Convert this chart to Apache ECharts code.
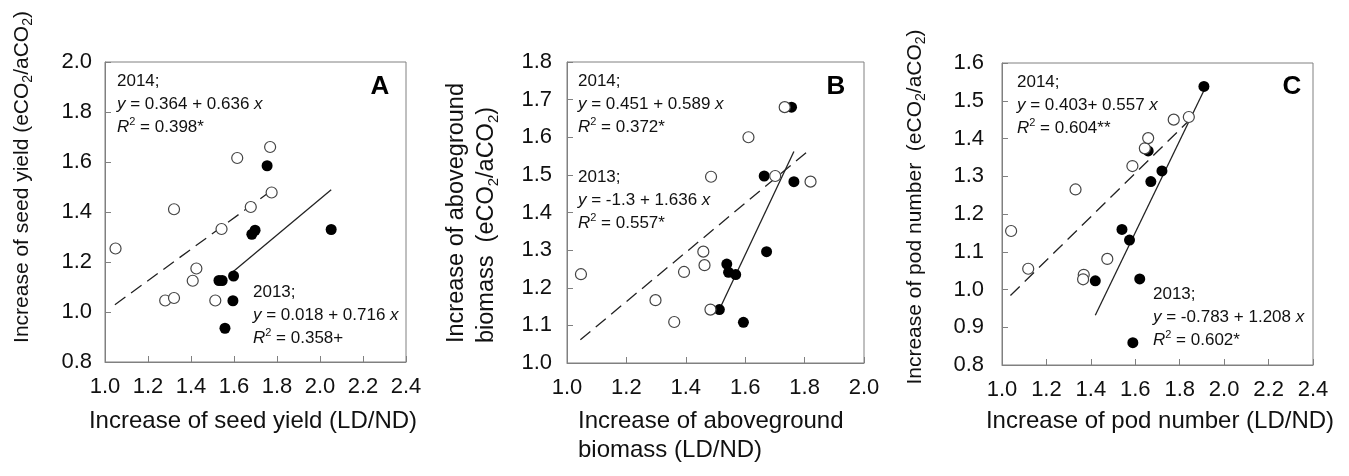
<!DOCTYPE html>
<html>
<head>
<meta charset="utf-8">
<script src="https://cdn.jsdelivr.net/npm/echarts@6/dist/echarts.min.js"></script>
<style>
  html, body { margin: 0; padding: 0; background: #fff; }
  #chart { width: 1349px; height: 476px; }
</style>
</head>
<body>
<div id="chart"></div>
<script>
// ---- data ----
// panel A: seed yield
const seedOpen2014 = [[1.049, 1.254], [1.321, 1.411], [1.280, 1.046], [1.321, 1.056], [1.408, 1.125], [1.425, 1.174],
    [1.513, 1.046], [1.542, 1.332], [1.615, 1.616], [1.678, 1.420], [1.768, 1.660], [1.775, 1.478]];
const seedFilled2013 = [[1.754, 1.585], [1.530, 1.126], [1.545, 1.126], [1.598, 1.144], [1.595, 1.045], [1.558, 0.935],
    [1.683, 1.311], [1.698, 1.327], [2.052, 1.330]];
const seedFit2014 = [[1.046, 1.029], [1.775, 1.486]];
const seedFit2013 = [[1.587, 1.155], [2.052, 1.489]];

// panel B: aboveground biomass
const biomassOpen2014 = [[1.047, 1.236], [1.298, 1.167], [1.361, 1.109], [1.394, 1.242], [1.459, 1.296], [1.463, 1.260],
    [1.485, 1.495], [1.483, 1.142], [1.611, 1.600], [1.701, 1.497], [1.733, 1.680], [1.820, 1.482]];
const biomassFilled2013 = [[1.513, 1.142], [1.538, 1.263], [1.544, 1.241], [1.568, 1.235], [1.594, 1.108], [1.664, 1.497],
    [1.672, 1.296], [1.756, 1.680], [1.764, 1.482]];
const biomassFit2014 = [[1.045, 1.062], [1.810, 1.562]];
const biomassFit2013 = [[1.513, 1.142], [1.764, 1.562]];

// panel C: pod number
const podOpen2014 = [[1.041, 1.155], [1.118, 1.055], [1.331, 1.265], [1.368, 1.039], [1.365, 1.027], [1.474, 1.081],
    [1.587, 1.327], [1.643, 1.374], [1.658, 1.401], [1.773, 1.450], [1.841, 1.457]];
const podFilled2013 = [[1.420, 1.023], [1.540, 1.159], [1.574, 1.131], [1.620, 1.028], [1.589, 0.859], [1.658, 1.367],
    [1.670, 1.286], [1.720, 1.314], [1.909, 1.538]];
const podFit2014 = [[1.038, 0.984], [1.841, 1.447]];
const podFit2013 = [[1.420, 0.932], [1.909, 1.527]];

// axis ranges [min, max, step]
const xRanges = [[1.0, 2.4, 0.2], [1.0, 2.0, 0.2], [1.0, 2.4, 0.2]];
const yRanges = [[0.8, 2.0, 0.2], [1.0, 1.8, 0.1], [0.8, 1.6, 0.1]];

const FONT = '"Liberation Sans", Arial, sans-serif';
const AXIS = '#808080';
const INK = '#111';

const chart = echarts.init(document.getElementById('chart'));

const grids = [
    { left: 105, top: 62, width: 301, height: 300 },
    { left: 567, top: 62, width: 297, height: 301 },
    { left: 1002, top: 63, width: 311, height: 302 }
];
const yLabelMargins = [13, 15, 18];

function xAxisFor(i) {
    const r = xRanges[i];
    return {
        type: 'value', gridIndex: i, min: r[0], max: r[1], interval: r[2],
        axisLine: { show: true, lineStyle: { color: AXIS, width: 1 } },
        axisTick: { show: true, inside: true, length: 6, lineStyle: { color: AXIS } },
        splitLine: { show: false },
        axisLabel: { color: INK, fontSize: 22, fontFamily: FONT, margin: 14, formatter: v => v.toFixed(1) }
    };
}
function yAxisFor(i) {
    const r = yRanges[i];
    return {
        type: 'value', gridIndex: i, min: r[0], max: r[1], interval: r[2],
        axisLine: { show: true, lineStyle: { color: AXIS, width: 1 } },
        axisTick: { show: true, inside: true, length: 6, lineStyle: { color: AXIS } },
        splitLine: { show: false },
        axisLabel: { color: INK, fontSize: 22, fontFamily: FONT, margin: yLabelMargins[i], formatter: v => v.toFixed(1) }
    };
}

function panelSeries(i, open, filled, fit14, fit13) {
    return [
        { type: 'line', xAxisIndex: i, yAxisIndex: i, data: fit14, symbol: 'none', z: 1,
          lineStyle: { color: '#222', width: 1.3, type: [13, 7] } },
        { type: 'line', xAxisIndex: i, yAxisIndex: i, data: fit13, symbol: 'none', z: 1,
          lineStyle: { color: '#222', width: 1.3 } },
        { type: 'scatter', xAxisIndex: i, yAxisIndex: i, data: filled, symbol: 'circle', symbolSize: 11, z: 2,
          itemStyle: { color: '#000', opacity: 1 } },
        { type: 'scatter', xAxisIndex: i, yAxisIndex: i, data: open, symbol: 'circle', symbolSize: 11, z: 3,
          itemStyle: { color: '#fff', borderColor: '#444', borderWidth: 1.2, opacity: 1 } }
    ];
}

const annRich = {
    i: { fontStyle: 'italic', fontSize: 17, fontFamily: FONT, fill: INK, lineHeight: 23 },
    sup: { fontSize: 11, fontFamily: FONT, fill: INK, verticalAlign: 'top', lineHeight: 12 }
};
function note(x, y, lines) {
    return {
        type: 'text', x: x, y: y, silent: true,
        style: { text: lines.join('\n'), font: '17px ' + FONT, fill: INK, lineHeight: 23, rich: annRich }
    };
}
function letter(x, y, t) {
    return {
        type: 'text', x: x, y: y, silent: true,
        style: { text: t, font: 'bold 26px ' + FONT, fill: '#000', align: 'center', verticalAlign: 'middle' }
    };
}

function yTitle(x, y, text, align, size) {
    return {
        type: 'text', x: x, y: y, rotation: Math.PI / 2, silent: true,
        style: {
            text: text, font: size + 'px ' + FONT, fill: INK, align: align, verticalAlign: 'middle',
            lineHeight: Math.round(size * 1.25),
            rich: { sub: { fontSize: Math.round(size * 0.65), fontFamily: FONT, fill: INK, verticalAlign: 'bottom', lineHeight: Math.round(size * 0.65) } }
        }
    };
}
function xTitle(x, y, text, align) {
    return {
        type: 'text', x: x, y: y, silent: true,
        style: { text: text, font: '24px ' + FONT, fill: INK, align: align, verticalAlign: 'middle' }
    };
}

const option = {
    backgroundColor: '#fff',
    animation: false,
    grid: grids.map(g => Object.assign({ show: true, borderColor: AXIS, borderWidth: 1, backgroundColor: 'transparent' }, g)),
    xAxis: [0, 1, 2].map(xAxisFor),
    yAxis: [0, 1, 2].map(yAxisFor),
    series: [].concat(
        panelSeries(0, seedOpen2014, seedFilled2013, seedFit2014, seedFit2013),
        panelSeries(1, biomassOpen2014, biomassFilled2013, biomassFit2014, biomassFit2013),
        panelSeries(2, podOpen2014, podFilled2013, podFit2014, podFit2013)
    ),
    graphic: [
        // panel A
        note(117, 70, ['2014;', '{i|y} = 0.364 + 0.636 {i|x}', '{i|R}{sup|2} = 0.398*']),
        note(253, 281, ['2013;', '{i|y} = 0.018 + 0.716 {i|x}', '{i|R}{sup|2} = 0.358+']),
        letter(380, 87, 'A'),
        yTitle(22, 177, 'Increase of seed yield (eCO{sub|2}/aCO{sub|2})', 'center', 21),
        xTitle(253, 421, 'Increase of seed yield (LD/ND)', 'center'),
        // panel B
        note(578, 70, ['2014;', '{i|y} = 0.451 + 0.589 {i|x}', '{i|R}{sup|2} = 0.372*']),
        note(578, 166, ['2013;', '{i|y} = -1.3 + 1.636 {i|x}', '{i|R}{sup|2} = 0.557*']),
        letter(836, 87, 'B'),
        yTitle(457, 343, 'Increase of aboveground', 'left', 23.5),
        yTitle(487, 343, 'biomass  (eCO{sub|2}/aCO{sub|2})', 'left', 23.5),
        xTitle(578, 421, 'Increase of aboveground', 'left'),
        xTitle(578, 450, 'biomass (LD/ND)', 'left'),
        // panel C
        note(1017, 71, ['2014;', '{i|y} = 0.403+ 0.557 {i|x}', '{i|R}{sup|2} = 0.604**']),
        note(1153, 283, ['2013;', '{i|y} = -0.783 + 1.208 {i|x}', '{i|R}{sup|2} = 0.602*']),
        letter(1292, 87, 'C'),
        yTitle(915, 207, 'Increase of pod number  (eCO{sub|2}/aCO{sub|2})', 'center', 21),
        xTitle(1160, 421, 'Increase of pod number (LD/ND)', 'center')
    ]
};

chart.setOption(option);
</script>
</body>
</html>
